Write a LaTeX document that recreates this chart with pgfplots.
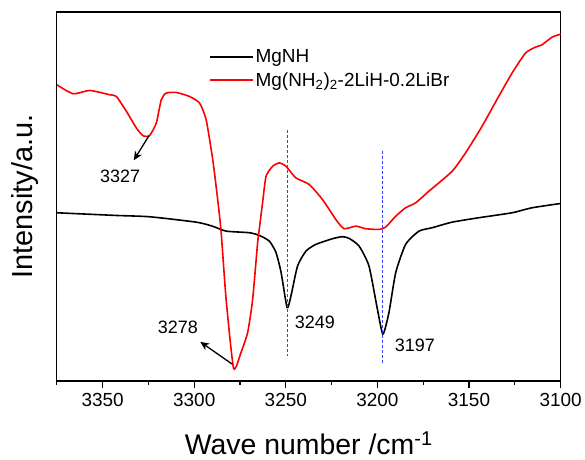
\documentclass[border=0pt]{standalone}
\usepackage{pgfplots}
\pgfplotsset{compat=1.18}
\usepackage{fontspec}
\setmainfont{Liberation Sans}
\usetikzlibrary{arrows.meta}
\definecolor{dblue}{RGB}{60,60,255}
\begin{document}
\begin{tikzpicture}[x=1pt,y=1pt]
\begin{axis}[
  at={(57pt,79pt)}, anchor=south west,
  scale only axis, width=505pt, height=370pt,
  x dir=reverse, xmin=3100, xmax=3375, ymin=0, ymax=370,
  ytick=\empty,
  xtick={3100,3150,...,3350},
  minor xtick={3125,3175,...,3375},
  xtick pos=bottom, tick align=outside,
  major tick length=7pt, minor tick length=4pt,
  axis line style={line width=1.2pt},
  every tick/.style={line width=1.1pt, black},
  /pgf/number format/1000 sep={},
  /pgf/number format/assume math mode=true,
  tick label style={font=\fontsize{19}{22}\selectfont},
  xticklabel style={yshift=-2pt},
  xlabel={Wave number /cm\textsuperscript{-1}},
  ylabel={Intensity/a.u.},
  xlabel style={font=\fontsize{28.5}{32}\selectfont, at={(axis description cs:0.5,0)}, anchor=center, yshift=-62pt},
  ylabel style={font=\fontsize{29}{32}\selectfont, at={(axis description cs:0,0.5)}, anchor=center, yshift=32pt},
  legend style={draw=none, fill=none, font=\fontsize{19}{22}\selectfont,
    at={(axis description cs:0.300,0.906)}, anchor=north west,
    row sep=4pt, inner sep=1pt,
    nodes={inner sep=2pt}},
  legend cell align=left,
  legend image code/.code={\draw[#1] (0pt,0pt) -- (43pt,0pt);},
]
\addplot[black, line width=1.6pt, smooth, tension=0.35] coordinates {
(3375,168.7) (3342.5,166) (3324.4,164.7) (3298.9,159.3) (3290.1,155.3)
(3282.6,150.3) (3269.9,148.7) (3264.5,146) (3259,140.3) (3255.4,129)
(3252.6,109) (3249.3,73.7) (3247.2,85.3) (3243.6,115.3) (3239,130.3)
(3233.6,137) (3224.5,142.7) (3219.1,144.7) (3215.4,143) (3210,135.3)
(3204.6,115.3) (3200,72) (3197,47) (3193.7,68.7) (3190,108.7)
(3184.6,137) (3177.3,150.3) (3170.1,153.7) (3159.2,159.3) (3144.7,163.7)
(3126.5,168.7) (3115.6,173.7) (3100,178)
};
\addlegendentry{MgNH}
\addplot[red, line width=1.6pt, smooth, tension=0.35] coordinates {
(3375,297) (3366.1,288) (3357.0,291.3) (3346.1,287) (3342.5,285.3)
(3337.0,270.3) (3331.6,253.7) (3328.0,246) (3324.4,246) (3320.7,258.7)
(3318.0,282) (3315.3,288.7) (3309.8,289.3) (3302.6,285.3) (3297.1,278.7)
(3293.5,262) (3289.9,222) (3287.2,182) (3285.3,149) (3282.6,82)
(3278.5,12.7) (3274.4,29) (3270.8,49) (3268.1,82) (3265.4,138.7)
(3264.5,152) (3262.7,178.7) (3260.8,205.3) (3257.2,215.3) (3253.6,218.7)
(3249.9,215.3) (3244.5,203.7) (3237.2,197) (3230.0,182) (3222.7,162)
(3218.2,152.7) (3211.8,155.3) (3206.3,152.7) (3199.1,152) (3195.5,154.3)
(3190.0,165.3) (3184.6,173.7) (3179.1,178.7) (3171.9,190.3) (3159.2,210.3)
(3151.9,228.7) (3142.9,255.3) (3133.8,285.3) (3126.5,308.7) (3119.2,328.7)
(3113.8,334.7) (3110.2,337) (3104.7,344.7) (3100,347.7)
};
\addlegendentry{Mg(NH\textsubscript{2})\textsubscript{2}-2LiH-0.2LiBr}
\addplot[dblue, line width=0.9pt, dash pattern=on 3pt off 2pt, forget plot] coordinates {(3249,252) (3249,25)};
\addplot[dblue, line width=0.9pt, dash pattern=on 3pt off 2pt, forget plot] coordinates {(3197,231) (3197,17)};
\draw[line width=1.3pt, -{Stealth[length=9pt,width=8pt]}] (axis cs:3324.7,246) -- (axis cs:3333.0,221.3);
\draw[line width=1.3pt, -{Stealth[length=9pt,width=8pt]}] (axis cs:3279.3,17) -- (axis cs:3296.7,39.3);
\node[font=\fontsize{18}{20}\selectfont] at (axis cs:3340.5,205.3) {3327};
\node[font=\fontsize{18}{20}\selectfont] at (axis cs:3308.9,53.7) {3278};
\node[font=\fontsize{18}{20}\selectfont] at (axis cs:3234.1,59.3) {3249};
\node[font=\fontsize{18}{20}\selectfont] at (axis cs:3179.5,36) {3197};
\end{axis}
\path (0,0) rectangle (585,461);
\end{tikzpicture}
\end{document}
